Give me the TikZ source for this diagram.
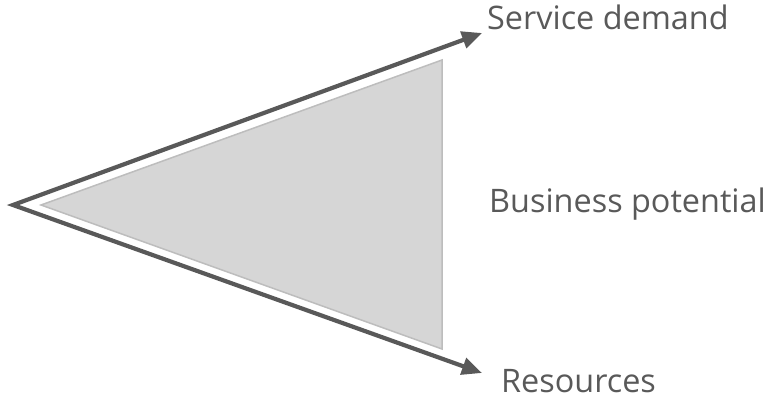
\documentclass[tikz,border=0pt]{standalone}
\usepackage{fontspec}
\setmainfont{Open Sans}
\usetikzlibrary{arrows.meta}
\definecolor{arrowgray}{HTML}{595959}
\definecolor{textgray}{HTML}{595959}
\definecolor{fillgray}{HTML}{D6D6D6}
\definecolor{edgegray}{HTML}{BDBDBD}
\tikzset{
  axisline/.style={draw=arrowgray, line width=4.2pt, line join=miter,
    {Triangle[length=20pt,width=17pt]}-{Triangle[length=20pt,width=17pt]}},
  area/.style={fill=fillgray, draw=edgegray, line width=1.5pt, line join=miter},
  lbl/.style={anchor=base west, inner sep=0pt, text=textgray,
    font=\fontsize{32.4pt}{36pt}\selectfont}
}
\begin{document}
\begin{tikzpicture}[x=1pt,y=-1pt]
\useasboundingbox (0,0) rectangle (774,398);
\coordinate (apex) at (13,205);
\coordinate (top) at (482,33);
\coordinate (bot) at (482,373);
\coordinate (ga) at (41,205);
\coordinate (gt) at (442,60);
\coordinate (gb) at (442,349);
\draw[area] (ga) -- (gt) -- (gb) -- cycle;
\draw[axisline] (top) -- (apex) -- (bot);
\node[lbl] (sd) at (487,30) {Service demand};
\node[lbl] (bp) at (489,212.5) {Business potential};
\node[lbl] (rs) at (501,392) {Resources};
\end{tikzpicture}
\end{document}
